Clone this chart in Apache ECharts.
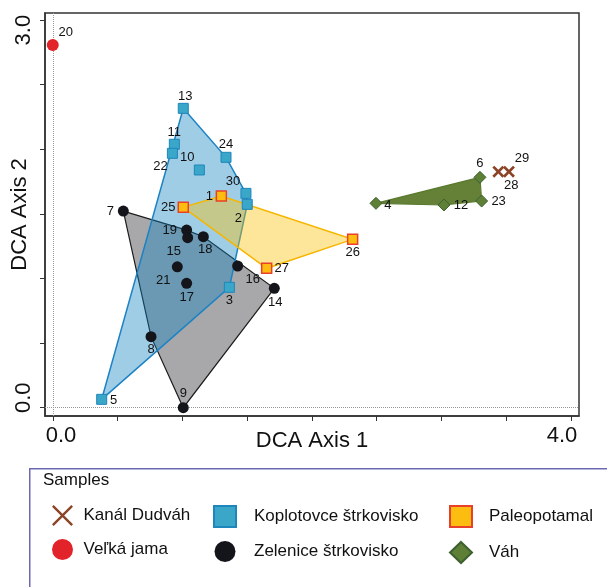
<!DOCTYPE html>
<html>
<head>
<meta charset="utf-8">
<script src="https://cdn.jsdelivr.net/npm/echarts@6/dist/echarts.min.js"></script>
<style>html,body{margin:0;padding:0;background:#fff;}#c{width:607px;height:587px;}</style>
</head>
<body>
<div id="c"></div>
<script>
// ---- data ----
const dudvahIds = ['28', '29'];
const dudvahX = [3.439, 3.521];
const dudvahY = [1.827, 1.827];

const jamaIds = ['20'];
const jamaX = [-0.002];
const jamaY = [2.807];

const koplotIds = ['13', '11', '22', '10', '24', '30', '2', '3', '5'];
const koplotX = [1.006, 0.937, 0.922, 1.130, 1.336, 1.490, 1.500, 1.362, 0.376];
const koplotY = [2.317, 2.039, 1.969, 1.840, 1.938, 1.659, 1.574, 0.932, 0.065];

const zelenIds = ['7', '19', '15', '18', '21', '17', '16', '14', '8', '9'];
const zelenX = [0.543, 1.032, 1.040, 1.161, 0.960, 1.032, 1.426, 1.709, 0.757, 1.006];
const zelenY = [1.522, 1.375, 1.316, 1.324, 1.091, 0.963, 1.097, 0.924, 0.550, 0.000];

const paleoIds = ['1', '25', '26', '27'];
const paleoX = [1.300, 1.006, 2.314, 1.650];
const paleoY = [1.639, 1.551, 1.303, 1.079];

const vahIds = ['4', '6', '12', '23'];
const vahX = [2.494, 3.297, 3.019, 3.310];
const vahY = [1.582, 1.783, 1.569, 1.600];

const xTicks = [0, 0.5, 1, 1.5, 2, 2.5, 3, 3.5, 4];
const yTicks = [0, 0.5, 1, 1.5, 2, 2.5, 3];
const xTickLabels = [0, 4];
const yTickLabels = [0, 3];

const groupNames = ['Kanál Dudváh', 'Veľká jama', 'Koplotovce štrkovisko', 'Zelenice štrkovisko', 'Paleopotamal', 'Váh'];

// ---- layout / style (not data) ----
const labelOffsets = {
  '20': [13, -13], '13': [2, -12], '11': [0, -12], '22': [-12, 13], '10': [-12, -13],
  '24': [0, -13], '30': [-13, -12], '2': [-9, 14], '1': [-12, 0], '25': [-15, 0],
  '7': [-13, 0], '19': [-17, 0], '15': [-14, 14], '18': [2, 13], '21': [-14, 14],
  '17': [0, 14], '16': [15, 13], '14': [1, 14], '3': [0, 13], '27': [15, 0],
  '8': [0, 13], '9': [0, -14], '5': [12, 1], '26': [0, 13], '4': [12, 2],
  '6': [0, -14], '12': [17, 0], '23': [17, 0], '29': [13, -13], '28': [13, 14]
};
const FONT = 'Liberation Sans, Arial, Helvetica, sans-serif';
const X_PATH = 'path://M0,1.6L1.6,0L5,3.4L8.4,0L10,1.6L6.6,5L10,8.4L8.4,10L5,6.6L1.6,10L0,8.4L3.4,5Z';
const X_PATH_THIN = 'path://M0,0.8L0.8,0L5,4.2L9.2,0L10,0.8L5.8,5L10,9.2L9.2,10L5,5.8L0.8,10L0,9.2L4.2,5Z';

function pts(xs, ys) { return xs.map((x, i) => [x, ys[i]]); }
function hull(points) {
  const p = points.slice().sort((a, b) => a[0] - b[0] || a[1] - b[1]);
  const cross = (o, a, b) => (a[0] - o[0]) * (b[1] - o[1]) - (a[1] - o[1]) * (b[0] - o[0]);
  const lower = [], upper = [];
  for (const q of p) { while (lower.length >= 2 && cross(lower[lower.length - 2], lower[lower.length - 1], q) <= 0) lower.pop(); lower.push(q); }
  for (let i = p.length - 1; i >= 0; i--) { const q = p[i]; while (upper.length >= 2 && cross(upper[upper.length - 2], upper[upper.length - 1], q) <= 0) upper.pop(); upper.push(q); }
  upper.pop(); lower.pop();
  return lower.concat(upper);
}
function hullSeries(name, points, fill, stroke, lw) {
  const h = hull(points);
  return {
    type: 'custom', name: name, silent: true, data: [[0, 0]],
    renderItem: function (params, api) {
      return { type: 'polygon', shape: { points: h.map(p => api.coord(p)) },
        style: { fill: fill, stroke: stroke, lineWidth: lw } };
    }
  };
}
function scatterData(ids, xs, ys) {
  return ids.map((id, i) => ({ name: id, value: [xs[i], ys[i]], label: { offset: labelOffsets[id] || [0, -12] } }));
}
function scatterSeries(name, ids, xs, ys, symbol, size, itemStyle) {
  return {
    type: 'scatter', name: name, data: scatterData(ids, xs, ys), symbol: symbol, symbolSize: size,
    itemStyle: Object.assign({ opacity: 1 }, itemStyle), z: 5,
    label: { show: true, position: 'inside', formatter: '{b}', color: '#111', fontSize: 13, fontFamily: FONT },
    emphasis: { disabled: true }
  };
}

const chart = echarts.init(document.getElementById('c'), null, { renderer: 'canvas' });
const legendCommon = {
  orient: 'vertical', padding: 0, itemWidth: 22, itemHeight: 21, itemGap: 13, top: 505,
  selectedMode: false, textStyle: { fontSize: 17, color: '#111', fontFamily: FONT }
};
chart.setOption({
  animation: false,
  textStyle: { fontFamily: FONT },
  grid: { left: 45, right: 28, top: 13, bottom: 171, show: true, borderColor: '#333', borderWidth: 1.5,
    backgroundColor: 'transparent', containLabel: false, outerBoundsMode: 'none' },
  xAxis: {
    type: 'value', min: -0.0618, max: 4.062,
    axisLine: { show: true, onZero: false, lineStyle: { color: '#333', width: 1.5 } },
    axisTick: { show: true, length: 5, customValues: xTicks, lineStyle: { color: '#333', width: 1 } },
    axisLabel: {
      customValues: xTickLabels, margin: 9, color: '#111', fontSize: 22,
      formatter: v => (v === 0 ? '{a|0.0}' : '{b|4.0}'),
      rich: { a: { padding: [0, 0, 0, 16], fontSize: 22, fontFamily: FONT, color: '#111' },
              b: { padding: [0, 18, 0, 0], fontSize: 22, fontFamily: FONT, color: '#111' } }
    },
    splitLine: { show: false },
    name: 'DCA Axis 1', nameLocation: 'middle', nameGap: 14, nameMoveOverlap: false,
    nameTextStyle: { fontSize: 22, color: '#111', fontFamily: FONT }
  },
  yAxis: {
    type: 'value', min: -0.064, max: 3.055,
    axisLine: { show: true, onZero: false, lineStyle: { color: '#333', width: 1.5 } },
    axisTick: { show: true, length: 5, customValues: yTicks, lineStyle: { color: '#333', width: 1 } },
    axisLabel: {
      customValues: yTickLabels, margin: 10, rotate: 90, color: '#111', fontSize: 22,
      formatter: v => (v === 0 ? '{a|0.0}' : '{b|3.0}'),
      rich: { a: { padding: [0, 0, 0, 20], fontSize: 22, fontFamily: FONT, color: '#111' },
              b: { padding: [0, 20, 0, 0], fontSize: 22, fontFamily: FONT, color: '#111' } }
    },
    splitLine: { show: false },
    name: 'DCA Axis 2', nameLocation: 'middle', nameGap: 14, nameMoveOverlap: false,
    nameTextStyle: { fontSize: 22, color: '#111', fontFamily: FONT }
  },
  legend: [
    Object.assign({}, legendCommon, { left: 52, data: [{ name: groupNames[0], icon: X_PATH_THIN }, groupNames[1]],
      textStyle: Object.assign({}, legendCommon.textStyle, { padding: [0, 0, 0, 5] }) }),
    Object.assign({}, legendCommon, { left: 213, data: [groupNames[2], groupNames[3]],
      textStyle: Object.assign({}, legendCommon.textStyle, { padding: [0, 0, 0, 13] }) }),
    Object.assign({}, legendCommon, { left: 449, data: [groupNames[4], groupNames[5]],
      textStyle: Object.assign({}, legendCommon.textStyle, { padding: [0, 0, 0, 12] }) })
  ],
  graphic: [
    { type: 'rect', left: 29, top: 468, z: -1, silent: true,
      shape: { width: 600, height: 140 }, style: { fill: '#fff', stroke: '#6c69b2', lineWidth: 1.5 } },
    { type: 'text', left: 43, top: 472, silent: true,
      style: { text: 'Samples', fontSize: 17, fontFamily: FONT, fill: '#111' } }
  ],
  series: [
    hullSeries('hull Zelenice', pts(zelenX, zelenY), 'rgba(20,20,26,0.37)', '#1c1c1c', 1.2),
    hullSeries('hull Koplotovce', pts(koplotX, koplotY), 'rgba(11,126,190,0.39)', '#1a82c4', 1.5),
    hullSeries('hull Paleopotamal', pts(paleoX, paleoY), 'rgba(250,192,3,0.40)', '#f6b600', 1.5),
    hullSeries('hull Váh', pts(vahX, vahY), 'rgba(92,122,44,0.95)', '#5a7a2e', 1.2),
    {
      type: 'line', name: 'zero lines', silent: true, data: [], symbol: 'none',
      markLine: { silent: true, symbol: 'none', label: { show: false },
        lineStyle: { type: 'dotted', color: '#9a9a9a', width: 1 },
        data: [{ xAxis: 0 }, { yAxis: 0 }] }
    },
    scatterSeries(groupNames[0], dudvahIds, dudvahX, dudvahY, X_PATH, 12, { color: '#8b4426' }),
    scatterSeries(groupNames[1], jamaIds, jamaX, jamaY, 'circle', 12, { color: '#e2232a' }),
    scatterSeries(groupNames[2], koplotIds, koplotX, koplotY, 'rect', 10, { color: '#3aa6c8', borderColor: '#1f86bb', borderWidth: 1 }),
    scatterSeries(groupNames[3], zelenIds, zelenX, zelenY, 'circle', 11, { color: '#14151b' }),
    scatterSeries(groupNames[4], paleoIds, paleoX, paleoY, 'rect', 10, { color: '#fdbd10', borderColor: '#e8402a', borderWidth: 1.5 }),
    scatterSeries(groupNames[5], vahIds, vahX, vahY, 'diamond', 12, { color: '#5e7f36', borderColor: '#3d6030', borderWidth: 1 })
  ]
});
</script>
</body>
</html>
